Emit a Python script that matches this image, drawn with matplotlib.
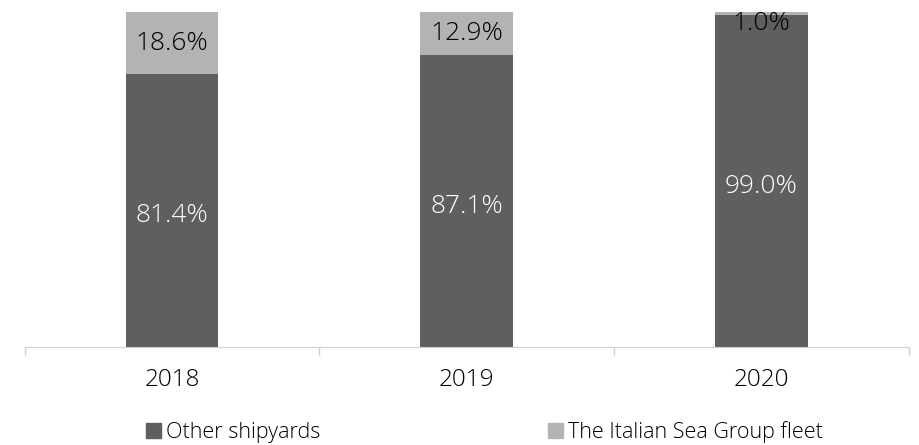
import matplotlib.pyplot as plt
from matplotlib.patches import Patch

years = ["2018", "2019", "2020"]
other = [81.4, 87.1, 99.0]
tisg = [18.6, 12.9, 1.0]

dark = "#5f5f5f"
light = "#b3b3b3"

plt.rcParams["font.family"] = ["Open Sans", "DejaVu Sans"]

fig = plt.figure(figsize=(9.19, 4.45), dpi=100)
ax = fig.add_axes([24.6 / 919, 98 / 445, 884 / 919, 335 / 445])

x = range(len(years))
ax.bar(x, other, width=0.315, color=dark)
ax.bar(x, tisg, width=0.315, bottom=other, color=light)

for i in x:
    ax.text(i, other[i] / 2 - 1.5, f"{other[i]:.1f}%", ha="center", va="center",
            color="white", fontsize=19, fontweight="light")
    top_mid = other[i] + tisg[i] / 2
    if tisg[i] < 3:
        # thin segment: let the label hang into the bar below
        top_mid = other[i] - 2.5
    ax.text(i, top_mid, f"{tisg[i]:.1f}%", ha="center", va="center",
            color="black", fontsize=19, fontweight="light")

ax.set_xlim(-0.5, 2.5)
ax.set_ylim(0, 100)
ax.set_yticks([])
ax.set_xticks(list(x))
ax.set_xticklabels(years, fontsize=17.5, fontweight="light")
ax.tick_params(axis="x", which="major", length=0, pad=15)
ax.set_xticks([-0.5, 0.5, 1.5, 2.5], minor=True)
ax.tick_params(axis="x", which="minor", length=6, color="#d0d0d0", width=1)
for s in ["left", "right", "top"]:
    ax.spines[s].set_visible(False)
ax.spines["bottom"].set_color("#d0d0d0")

handles = [Patch(color=dark, label="Other shipyards"),
           Patch(color=light, label="The Italian Sea Group fleet")]
fig.legend(handles=handles, loc="center", bbox_to_anchor=(0.527, 0.03),
           ncol=2, frameon=False, handlelength=0.7, handleheight=0.7,
           handletextpad=0.2, columnspacing=10.6,
           prop={"size": 15.5, "weight": "light"})

fig.savefig("out.png", dpi=100)
